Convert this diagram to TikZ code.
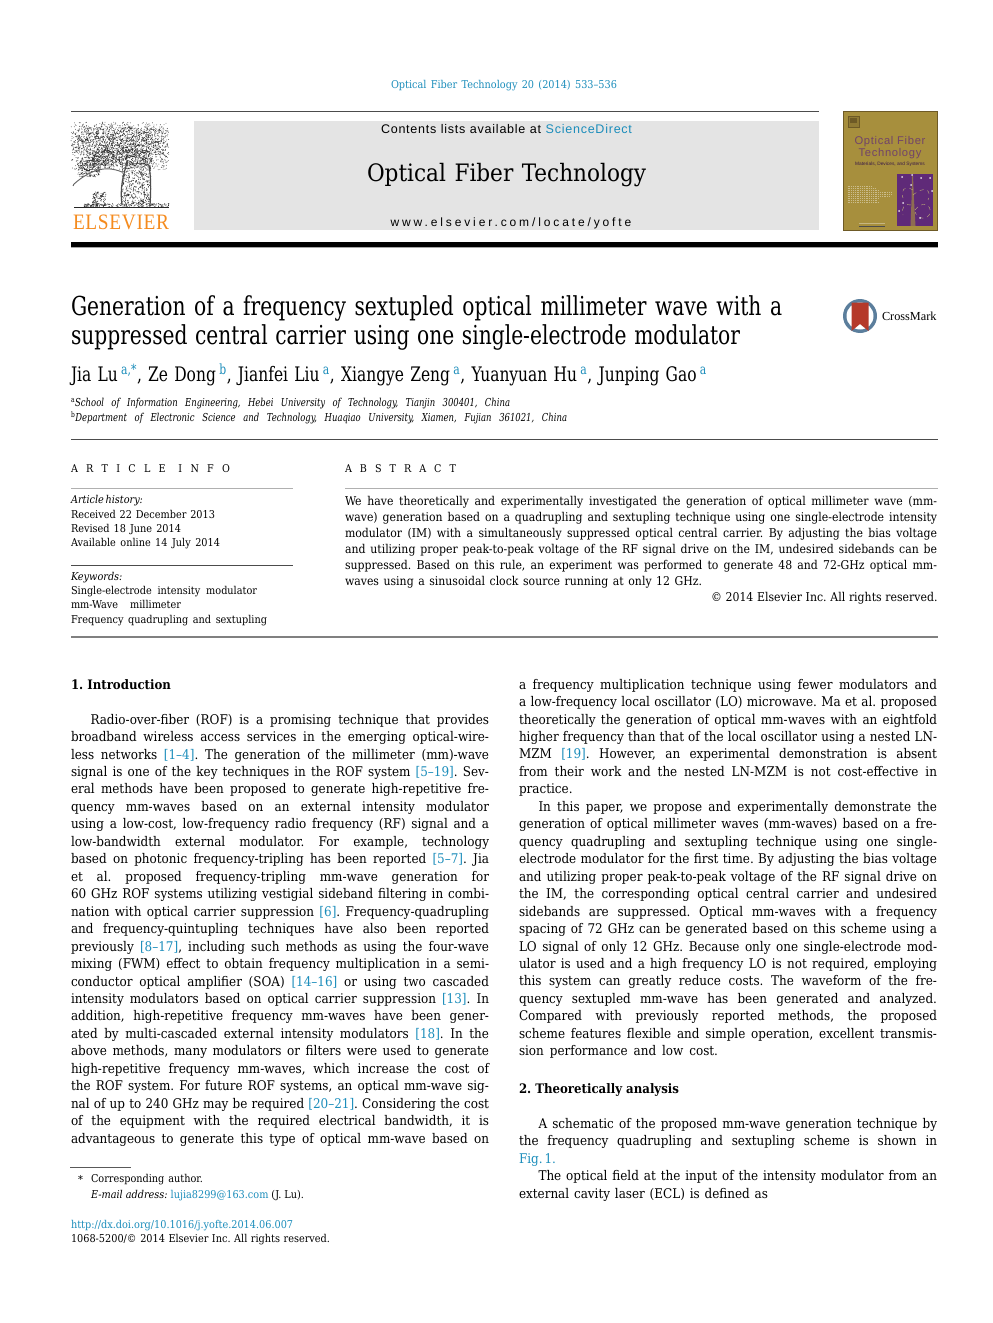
\documentclass[tikz,border=0pt]{standalone}
\usepackage{fontspec}
\setmainfont[WordSpace=0.75]{DejaVu Serif Condensed}
\newfontfamily\lsf{Liberation Serif}
\newfontfamily\titlef[FakeStretch=0.86,WordSpace=0.75]{DejaVu Serif Condensed}
\newfontfamily\elsf[FakeStretch=0.88]{Liberation Serif}
\newfontfamily\hdsans{Liberation Sans}
\newfontfamily\hdsanswide[LetterSpace=24]{Liberation Sans}
\newfontfamily\hdsanstrack[LetterSpace=6]{Liberation Sans}
\definecolor{linkc}{HTML}{1B8DBB}
\definecolor{boxgrey}{HTML}{E4E4E4}
\definecolor{rulegrey}{HTML}{B0B0B0}
\definecolor{cover}{HTML}{A78F3D}
\definecolor{coverd}{HTML}{6E5A26}
\definecolor{coverp}{HTML}{5F2A78}
\definecolor{elsorange}{HTML}{F58B1E}
\definecolor{cmring}{HTML}{5B7E9C}
\definecolor{cmred}{HTML}{B5392A}
\newcommand\lk[1]{\textcolor{linkc}{#1}}
\newdimen\pxu \pxu=0.75pt
\newcount\nodeno
\newcommand\tl[5][txt]{\global\advance\nodeno 1 \node[#1,yshift=-0.45pt] (t\the\nodeno) at (#2,#3) {\makebox[#4\pxu][s]{#5}};}
\newcommand\startcol[3]{\xdef\colx{#1}\xdef\cury{#2}\xdef\pitch{#3}}
\newcommand\stepy{\pgfmathparse{\cury+\pitch}\xdef\cury{\pgfmathresult}}
\newcommand\bl[1]{\tl[body]{\colx}{\cury}{418}{#1}\stepy}
\newcommand\bli[1]{\pgfmathparse{\colx+19.5}\edef\xi{\pgfmathresult}\tl[body]{\xi}{\cury}{398.5}{#1}\stepy}
\newcommand\blr[2]{\tl[body]{\colx}{\cury}{#1}{#2}\stepy}
\newcommand\ab[1]{\tl[abst]{345}{\cury}{592}{#1}\stepy}
\tikzset{
 txt/.style={anchor=base west,inner sep=0pt,outer sep=0pt,font=\fontsize{8.1}{10}\selectfont},
 body/.style={txt,font=\fontsize{10}{12}\selectfont},
 abst/.style={txt,font=\fontsize{9.1}{11}\selectfont},
 small/.style={txt,font=\fontsize{8.1}{10}\selectfont},
 heading/.style={txt,font=\fontsize{9.8}{12}\selectfont\bfseries},
 spaced/.style={txt,font=\fontsize{8}{10}\selectfont},
 titlet/.style={txt,font=\fontsize{19.6}{22}\titlef\selectfont},
 authort/.style={txt,font=\fontsize{15}{18}\titlef\selectfont},
 affil/.style={txt,font=\fontsize{8.2}{10}\titlef\selectfont\itshape},
 journal/.style={txt,font=\fontsize{18}{22}\selectfont},
 hdtxt/.style={txt,font=\fontsize{9.4}{11}\hdsanstrack\selectfont},
 hdurl/.style={txt,font=\fontsize{9}{11}\hdsanswide\selectfont},
 rulethin/.style={line width=0.75pt,color=black!70},
 rulelight/.style={line width=1.4pt,color=rulegrey},
 speck/.style={fill=black!80},
}
\begin{document}
\frenchspacing
\begin{tikzpicture}[x=0.75pt,y=-0.75pt]
\useasboundingbox (0,0) rectangle (992,1323);
\fill[white] (0,0) rectangle (992,1323);
\pgfmathsetseed{4242}
% header
\tl[small]{391}{88}{226}{\lk{Optical Fiber Technology 20 (2014) 533–536}}
\draw[rulethin] (71,111.5) -- (819,111.5);
\fill[boxgrey] (194,121) rectangle (819,230.5);
\tl[hdtxt]{381}{133}{251}{Contents lists available at \lk{ScienceDirect}}
\tl[journal]{367}{181}{279}{Optical Fiber Technology}
\node[hdurl,anchor=base] (url) at (511,226.5) {www.elsevier.com/locate/yofte};
\fill[black] (71,242) rectangle (938,247);
\fill[black!35] (71,247) rectangle (938,248);
% Elsevier tree
\fill[speck] \foreach \i in {1,...,1900}{ ({120+49*sqrt(rnd)*cos(360*rnd)},{146+24*sqrt(rnd)*sin(360*rnd)}) circle (0.42) };
\fill[speck] \foreach \i in {1,...,420}{ ({72+97*rnd},{128+25*rnd}) circle (0.42) };
\fill[speck] \foreach \i in {1,...,500}{ ({92+60*rnd},{150+16*rnd}) circle (0.42) };
\fill[speck] \foreach \i in {1,...,240}{ ({78+22*rnd},{160+17*rnd}) circle (0.42) };
\fill[speck] \foreach \i in {1,...,520}{ ({122+29*rnd},{163+42*rnd}) circle (0.42) };
\fill[speck] \foreach \i in {1,...,120}{ ({92+14*rnd},{192+14*rnd}) circle (0.42) };
\fill[speck] \foreach \i in {1,...,220}{ ({84+85*rnd},{203.5+3.5*rnd}) circle (0.42) };
\draw[black!85,line width=0.7pt] (74,207.5) -- (169,207.5);
\draw[black!70,line width=0.9pt] (122,205) .. controls (120,190) and (122,178) .. (128,160);
\draw[black!70,line width=0.9pt] (150,205) .. controls (151,190) and (151,178) .. (149,165);
\draw[black!60,line width=0.7pt] (122,172) .. controls (105,165) and (90,170) .. (74,184);
\draw[black!70,line width=0.6pt] (74,184) -- (73,186);
\node[txt,font=\fontsize{16.5}{18}\elsf\selectfont,text=elsorange] (els) at (73,229.5) {\makebox[96\pxu][s]{E\hfill L\hfill S\hfill E\hfill V\hfill I\hfill E\hfill R}};
% cover
\fill[cover,draw=coverd,line width=0.75pt] (843,111.5) rectangle (937.5,230.5);
\draw[coverd,line width=0.4pt,fill=coverd!40!cover] (848,116) rectangle (859,127);
\fill[coverd] (850,118) rectangle (857,123);
\node[txt,font=\fontsize{8.4}{9}\hdsanstrack\selectfont,text=coverp!75!cover,anchor=base] (cv1) at (890,144.5) {Optical Fiber};
\node[txt,font=\fontsize{8.4}{9}\hdsanstrack\selectfont,text=coverp!75!cover,anchor=base] (cv2) at (890,156.5) {Technology};
\node[txt,font=\fontsize{3.6}{4}\hdsans\selectfont,text=coverp!60!black,anchor=base] (cv3) at (890,165.5) {Materials, Devices, and Systems};
\fill[coverp] (897,174) rectangle (933,226);
\fill[cover!65!coverp] (910.5,226) -- (911.5,200) -- (912,176) -- (913,176) -- (914,200) -- (915.5,226) -- cycle;
\draw[cover!70!white,line width=0.3pt,dashed] (913,190) .. controls (905,185) and (900,190) .. (903,198) (913,195) .. controls (925,185) and (932,190) .. (928,200) (915,210) .. controls (922,200) and (932,205) .. (930,213) .. controls (928,220) and (918,220) .. (915,212) (911,205) .. controls (905,203) and (901,207) .. (903,215);
\fill[white!85!coverp] \foreach \p in {(902,177),(912,175),(921,178),(930,178),(932,191),(903,203),(899,211),(920,218),(911,185)}{ \p circle (1) };
\foreach \yy/\ww in {186/25,188/28,190/32,192/44,194/44,196/42,198/32,200/30,202/32}{
 \draw[white!40!cover,line width=0.35pt,densely dotted] (847.5,\yy) -- ({847.5+\ww},\yy);
}
\draw[black!70,line width=0.6pt] (859,226) -- (885,226);
\draw[white!35!cover,line width=0.3pt] (859,223.5) -- (885,223.5);
% title
\tl[titlet]{71}{315}{711}{Generation of a frequency sextupled optical millimeter wave with a}
\tl[titlet]{71}{344}{669}{suppressed central carrier using one single-electrode modulator}
% crossmark
\fill[cmring] (860,316) circle (17);
\fill[white] (860,316) circle (13.5);
\fill[cmred] (851.5,302.5) -- (868.5,302.5) -- (868.5,331) -- (860,324) -- (851.5,331) -- cycle;
\node[txt,font=\fontsize{9.2}{11}\lsf\selectfont] (cm) at (882,320) {\makebox[55\pxu][s]{CrossMark}};
% authors
\tl[authort]{71}{381}{636}{Jia Lu\,\textsuperscript{\lk{a,}\lk{*}}, Ze Dong\,\textsuperscript{\lk{b}}, Jianfei Liu\,\textsuperscript{\lk{a}}, Xiangye Zeng\,\textsuperscript{\lk{a}}, Yuanyuan Hu\,\textsuperscript{\lk{a}}, Junping Gao\,\textsuperscript{\lk{a}}}
\tl[affil]{71}{406}{439}{\textsuperscript{\upshape a}School of Information Engineering, Hebei University of Technology, Tianjin 300401, China}
\tl[affil]{71}{421}{496}{\textsuperscript{\upshape b}Department of Electronic Science and Technology, Huaqiao University, Xiamen, Fujian 361021, China}
\draw[rulethin] (71,439.5) -- (938,439.5);
% article info
\tl[spaced]{71}{471.5}{159}{A\hfill R\hfill T\hfill I\hfill C\hfill L\hfill E\hspace{1.2em}I\hfill N\hfill F\hfill O}
\tl[spaced]{345}{471.5}{111}{A\hfill B\hfill S\hfill T\hfill R\hfill A\hfill C\hfill T}
\draw[rulelight] (71,488.5) -- (293,488.5);
\draw[rulelight] (345,488.5) -- (938,488.5);
\tl[small]{71}{503}{71}{\textit{Article history:}}
\tl[small]{71}{518}{144}{Received 22 December 2013}
\tl[small]{71}{532}{110}{Revised 18 June 2014}
\tl[small]{71}{546}{149}{Available online 14 July 2014}
\draw[rulethin] (71,565.5) -- (293,565.5);
\tl[small]{71}{580}{50}{\textit{Keywords:}}
\tl[small]{71}{594}{186}{Single-electrode intensity modulator}
\tl[small]{71}{608}{110}{mm-Wave millimeter}
\tl[small]{71}{623}{196}{Frequency quadrupling and sextupling}
% abstract
\startcol{345}{504.5}{16}
\ab{We have theoretically and experimentally investigated the generation of optical millimeter wave (mm-}
\ab{wave) generation based on a quadrupling and sextupling technique using one single-electrode intensity}
\ab{modulator (IM) with a simultaneously suppressed optical central carrier. By adjusting the bias voltage}
\ab{and utilizing proper peak-to-peak voltage of the RF signal drive on the IM, undesired sidebands can be}
\ab{suppressed. Based on this rule, an experiment was performed to generate 48 and 72-GHz optical mm-}
\tl[abst]{345}{\cury}{357}{waves using a sinusoidal clock source running at only 12 GHz.}
\tl[abst]{711}{600.5}{226.5}{© 2014 Elsevier Inc. All rights reserved.}
\draw[line width=1.2pt,color=black!50] (71,637) -- (938,637);
% left column
\tl[heading]{71}{688.5}{100}{1. Introduction}
\startcol{71}{723.5}{17.46}
\bli{Radio-over-fiber (ROF) is a promising technique that provides}
\bl{broadband wireless access services in the emerging optical-wire-}
\bl{less networks \lk{[1–4]}. The generation of the millimeter (mm)-wave}
\bl{signal is one of the key techniques in the ROF system \lk{[5–19]}. Sev-}
\bl{eral methods have been proposed to generate high-repetitive fre-}
\bl{quency mm-waves based on an external intensity modulator}
\bl{using a low-cost, low-frequency radio frequency (RF) signal and a}
\bl{low-bandwidth external modulator. For example, technology}
\bl{based on photonic frequency-tripling has been reported \lk{[5–7]}. Jia}
\bl{et al. proposed frequency-tripling mm-wave generation for}
\bl{60 GHz ROF systems utilizing vestigial sideband filtering in combi-}
\bl{nation with optical carrier suppression \lk{[6]}. Frequency-quadrupling}
\bl{and frequency-quintupling techniques have also been reported}
\bl{previously \lk{[8–17]}, including such methods as using the four-wave}
\bl{mixing (FWM) effect to obtain frequency multiplication in a semi-}
\bl{conductor optical amplifier (SOA) \lk{[14–16]} or using two cascaded}
\bl{intensity modulators based on optical carrier suppression \lk{[13]}. In}
\bl{addition, high-repetitive frequency mm-waves have been gener-}
\bl{ated by multi-cascaded external intensity modulators \lk{[18]}. In the}
\bl{above methods, many modulators or filters were used to generate}
\bl{high-repetitive frequency mm-waves, which increase the cost of}
\bl{the ROF system. For future ROF systems, an optical mm-wave sig-}
\bl{nal of up to 240 GHz may be required \lk{[20–21]}. Considering the cost}
\bl{of the equipment with the required electrical bandwidth, it is}
\bl{advantageous to generate this type of optical mm-wave based on}
% footnotes
\draw[line width=1pt,color=black!65] (70,1167.5) -- (131,1167.5);
\tl[small]{78}{1183}{6}{*}
\tl[small]{91}{1182}{112}{Corresponding author.}
\tl[small]{91}{1198}{213}{\textit{E-mail address:} \lk{lujia8299@163.com} (J. Lu).}
\tl[small]{71}{1228}{227}{\lk{http://dx.doi.org/10.1016/j.yofte.2014.06.007}}
\tl[small]{71}{1242}{259}{1068-5200/© 2014 Elsevier Inc. All rights reserved.}
% right column
\startcol{519}{688.5}{17.46}
\bl{a frequency multiplication technique using fewer modulators and}
\bl{a low-frequency local oscillator (LO) microwave. Ma et al. proposed}
\bl{theoretically the generation of optical mm-waves with an eightfold}
\bl{higher frequency than that of the local oscillator using a nested LN-}
\bl{MZM \lk{[19]}. However, an experimental demonstration is absent}
\bl{from their work and the nested LN-MZM is not cost-effective in}
\blr{53}{practice.}
\bli{In this paper, we propose and experimentally demonstrate the}
\bl{generation of optical millimeter waves (mm-waves) based on a fre-}
\bl{quency quadrupling and sextupling technique using one single-}
\bl{electrode modulator for the first time. By adjusting the bias voltage}
\bl{and utilizing proper peak-to-peak voltage of the RF signal drive on}
\bl{the IM, the corresponding optical central carrier and undesired}
\bl{sidebands are suppressed. Optical mm-waves with a frequency}
\bl{spacing of 72 GHz can be generated based on this scheme using a}
\bl{LO signal of only 12 GHz. Because only one single-electrode mod-}
\bl{ulator is used and a high frequency LO is not required, employing}
\bl{this system can greatly reduce costs. The waveform of the fre-}
\bl{quency sextupled mm-wave has been generated and analyzed.}
\bl{Compared with previously reported methods, the proposed}
\bl{scheme features flexible and simple operation, excellent transmis-}
\blr{199}{sion performance and low cost.}
\tl[heading]{519}{1092.5}{160}{2. Theoretically analysis}
\startcol{519}{1127.5}{17.5}
\bli{A schematic of the proposed mm-wave generation technique by}
\bl{the frequency quadrupling and sextupling scheme is shown in}
\blr{21}{\lk{Fig. 1.}}
\bli{The optical field at the input of the intensity modulator from an}
\blr{249}{external cavity laser (ECL) is defined as}
\end{tikzpicture}
\end{document}
